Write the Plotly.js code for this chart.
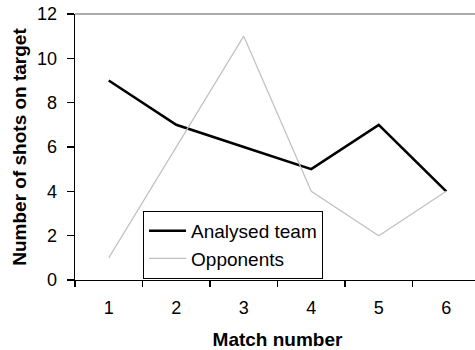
<!DOCTYPE html>
<html>
<head>
<meta charset="utf-8">
<script src="https://cdn.plot.ly/plotly-3.0.1.min.js"></script>
<style>
html,body{margin:0;padding:0;overflow:hidden;background:#fff;}
#chart{width:480px;height:350px;}
</style>
</head>
<body>
<div id="chart"></div>
<script>
const matches = ["1", "2", "3", "4", "5", "6"];
const analysedTeam = [9, 7, 6, 5, 7, 4];
const opponents = [1, 6, 11, 4, 2, 4];
const seriesNames = ["Analysed team", "Opponents"];
const yTicks = [0, 2, 4, 6, 8, 10, 12];

const font = "Arial, 'Liberation Sans', sans-serif";

const traces = [
  {
    x: matches, y: analysedTeam, name: seriesNames[0], type: "scatter", mode: "lines",
    line: {color: "#000000", width: 2.6}, legendgroup: "a"
  },
  {
    x: matches, y: opponents, name: seriesNames[1], type: "scatter", mode: "lines",
    line: {color: "#c0c0c0", width: 1.2}, legendgroup: "b"
  }
];

const layout = {
  width: 480, height: 350,
  margin: {l: 75, r: 0, t: 14, b: 70},
  paper_bgcolor: "#ffffff", plot_bgcolor: "#ffffff",
  font: {family: font, color: "#000000", size: 18},
  showlegend: true,
  legend: {
    x: 0.168, y: 0.26, xanchor: "left", yanchor: "top",
    bordercolor: "#000000", borderwidth: 1, bgcolor: "#ffffff",
    font: {family: font, size: 19, color: "#000"},
    tracegroupgap: 8, traceorder: "normal", itemwidth: 37
  },
  xaxis: {
    type: "category", range: [-0.5, 5.5],
    tickson: "boundaries", ticks: "outside", ticklen: 6, tickwidth: 1.3, tickcolor: "#000",
    showline: true, linecolor: "#000", linewidth: 1.4,
    showgrid: false, zeroline: false,
    tickfont: {family: font, size: 18},
    ticklabelstandoff: 11,
    title: {text: "<b>Match number</b>", font: {family: font, size: 19}, standoff: 17}
  },
  yaxis: {
    range: [0, 12], tickvals: yTicks, ticktext: yTicks.map(String),
    ticks: "outside", ticklen: 7, tickwidth: 1.3, tickcolor: "#000",
    showline: true, linecolor: "#000", linewidth: 1.4,
    showgrid: false, zeroline: false,
    tickfont: {family: font, size: 18},
    ticklabelstandoff: 6,
    title: {text: "<b>Number of shots on target</b>", font: {family: font, size: 19}, standoff: 5}
  },
  shapes: [
    {type: "line", xref: "paper", yref: "paper", x0: 0, x1: 1, y0: 1, y1: 1,
     line: {color: "#909090", width: 1.5}}
  ]
};

Plotly.newPlot("chart", traces, layout, {displayModeBar: false, staticPlot: true});
</script>
</body>
</html>
